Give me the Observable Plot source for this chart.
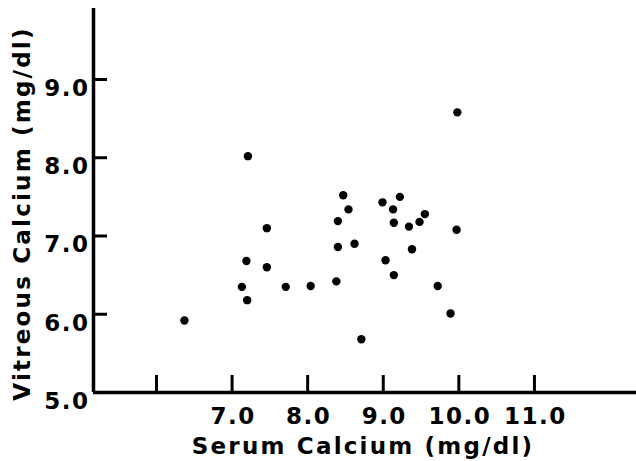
<!DOCTYPE html>
<html>
<head>
<meta charset="utf-8">
<script src="https://cdn.jsdelivr.net/npm/d3@7"></script>
<script src="https://cdn.jsdelivr.net/npm/@observablehq/plot@0.6"></script>
<style>
  html, body { margin: 0; padding: 0; background: white; }
  #chart g[aria-label="x-axis tick label"] text,
  #chart g[aria-label="y-axis tick label"] text { letter-spacing: 1.5px; }
  #chart g[aria-label="text"] text { letter-spacing: 2.2px; }
</style>
</head>
<body>
<div id="chart"></div>
<script>
// Serum calcium (x) and vitreous calcium (y), mg/dl
const serum = [7.21, 7.46, 7.19, 7.46, 7.13, 7.20, 7.71, 8.04, 6.37,
               9.98, 8.47, 9.22, 8.99, 8.54, 9.13, 8.40, 9.14, 9.55, 9.48,
               9.34, 9.97, 8.40, 8.62, 9.38, 9.03, 9.14, 8.38, 9.72, 9.89, 8.71];
const vitreous = [8.02, 7.10, 6.68, 6.60, 6.35, 6.18, 6.35, 6.36, 5.92,
                  8.58, 7.52, 7.50, 7.43, 7.34, 7.34, 7.19, 7.17, 7.28, 7.18,
                  7.12, 7.08, 6.86, 6.90, 6.83, 6.69, 6.50, 6.42, 6.36, 6.01, 5.68];

const xTicks = [6, 7, 8, 9, 10, 11];
const xTickLabels = ["", "7.0", "8.0", "9.0", "10.0", "11.0"];
const yTicks = [5, 6, 7, 8, 9];
const yTickLabels = ["5.0", "6.0", "7.0", "8.0", "9.0"];
const xDomain = [5.167, 12.35];
const yDomain = [5, 9.907];
const xTitle = "Serum Calcium (mg/dl)";
const yTitle = "Vitreous Calcium (mg/dl)";

const points = serum.map((s, i) => ({serum: s, vitreous: vitreous[i]}));

const chart = Plot.plot({
  width: 636,
  height: 461,
  marginLeft: 93,
  marginRight: 0,
  marginTop: 8,
  marginBottom: 69,
  style: {
    fontFamily: "'DejaVu Sans', sans-serif",
    fontWeight: "bold",
    fontSize: "23px",
    color: "black",
    background: "white",
    overflow: "visible"
  },
  x: {domain: xDomain},
  y: {domain: yDomain},
  marks: [
    // inward ticks
    Plot.axisX({ticks: xTicks, tickSize: -17, strokeWidth: 3, tickFormat: () => "", label: null}),
    Plot.axisY({ticks: yTicks.slice(1), tickSize: -14, strokeWidth: 3, tickFormat: () => "", label: null}),
    // tick labels
    Plot.axisX({ticks: xTicks, tickSize: 0, tickPadding: 15, dx: 1, 
      tickFormat: d => xTickLabels[xTicks.indexOf(d)], label: null}),
    Plot.axisY({ticks: yTicks, tickSize: 0, tickPadding: 4, dy: 9,
      tickFormat: d => yTickLabels[yTicks.indexOf(d)], label: null}),
    // axis lines
    Plot.ruleX([xDomain[0]], {strokeWidth: 3.5}),
    Plot.ruleY([yDomain[0]], {strokeWidth: 3.5}),
    // points
    Plot.dot(points, {x: "serum", y: "vitreous", r: 4.2, fill: "black", stroke: "none"}),
    // axis titles
    Plot.text([xTitle], {frameAnchor: "bottom", lineAnchor: "bottom", textAnchor: "middle", dx: -2, dy: 61, text: d => d}),
    Plot.text([yTitle], {frameAnchor: "left", textAnchor: "middle", rotate: -90, dx: -71, dy: 13, text: d => d})
  ]
});

document.getElementById("chart").appendChild(chart);
</script>
</body>
</html>
